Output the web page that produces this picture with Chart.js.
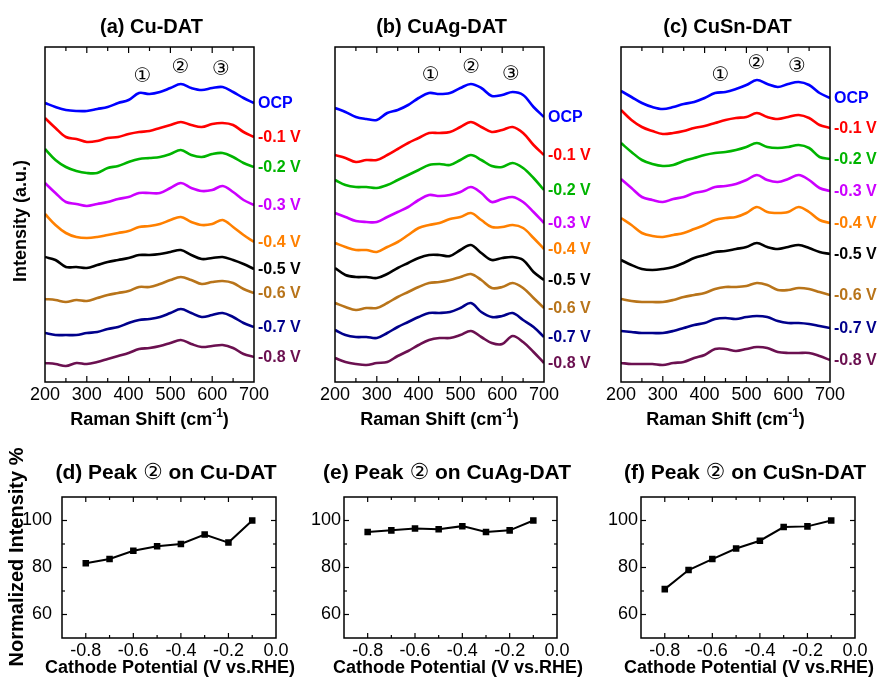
<!DOCTYPE html>
<html><head><meta charset="utf-8">
<script src="https://cdn.jsdelivr.net/npm/chart.js@4.4.1/dist/chart.umd.min.js"></script>
<style>
html,body{margin:0;padding:0;background:#fff;}
#wrap{position:relative;width:879px;height:689px;overflow:hidden;background:#fff;}
canvas{position:absolute;left:0;}
</style></head><body><div id="wrap">
<canvas id="ca"></canvas><canvas id="cb"></canvas><canvas id="cc"></canvas>
<canvas id="cd"></canvas><canvas id="ce"></canvas><canvas id="cf"></canvas>
</div>
<script>
// ---------------- DATA ----------------
const ramanShift = [200,225,250,275,300,325,350,375,400,425,450,475,500,525,550,575,600,625,650,675,700];
const ramanTicks = [200,300,400,500,600,700];
const potentialLabels = ['OCP','-0.1 V','-0.2 V','-0.3 V','-0.4 V','-0.5 V','-0.6 V','-0.7 V','-0.8 V'];

// (a) Cu-DAT spectra (offset intensity, a.u.)
const cuOCP = [279,275,272,271,271,273,275,279,282,289,288,290,294,298,294,292,294,295,290,284,279];
const cuN01 = [264,254,245,243,240,241,244,245,248,250,251,254,257,260,257,255,258,259,257,250,245];
const cuN02 = [233,222,215,211,209,209,214,216,220,223,224,225,228,232,227,225,228,229,225,219,215];
const cuN03 = [199,189,180,178,176,178,180,183,185,189,189,189,194,199,194,191,192,196,190,182,177];
const cuN04 = [168,157,149,145,144,145,147,149,151,155,156,158,162,165,160,157,158,162,155,147,140];
const cuN05 = [125,122,115,115,114,117,120,122,124,127,127,128,130,132,127,123,124,125,122,118,113];
const cuN06 = [83,82,80,82,81,84,87,89,91,95,95,98,102,105,102,98,100,101,99,93,89];
const cuN07 = [49,47,47,47,49,50,53,55,59,62,63,65,69,73,69,65,67,69,65,59,55];
const cuN08 = [19,18,16,19,18,20,23,26,29,33,34,36,39,42,38,35,36,37,34,28,25];

// (b) CuAg-DAT spectra
const agOCP = [274,270,265,263,262,269,272,277,284,289,288,289,294,298,294,286,287,290,287,275,265];
const agN01 = [227,224,220,222,222,227,233,239,244,249,249,250,255,260,255,250,252,255,249,237,227];
const agN02 = [202,197,195,195,194,197,202,207,212,217,218,217,222,227,222,216,215,219,214,204,192];
const agN03 = [169,165,161,160,160,165,170,175,182,187,186,187,190,195,189,180,183,185,180,170,159];
const agN04 = [139,135,132,132,130,135,140,147,154,157,159,163,165,169,162,155,155,157,154,144,133];
const agN05 = [114,107,105,105,104,108,114,119,124,127,127,126,132,137,129,122,124,125,122,110,102];
const agN06 = [79,75,72,74,74,79,85,90,95,99,100,102,105,108,102,94,95,99,94,84,74];
const agN07 = [52,47,45,45,44,49,55,60,65,69,69,70,74,79,70,65,66,69,62,55,45];
const agN08 = [24,20,18,17,19,20,26,31,37,42,44,44,47,51,45,39,38,46,40,30,19];

// (c) CuSn-DAT spectra
const snOCP = [291,285,279,275,273,275,278,280,284,289,290,293,297,302,298,295,298,300,297,289,284];
const snN01 = [272,262,255,251,248,249,251,254,256,259,262,264,265,269,265,263,265,267,264,257,254];
const snN02 = [239,230,222,218,216,217,221,224,227,229,230,232,235,239,235,234,235,237,234,225,223];
const snN03 = [203,194,185,182,180,183,185,189,191,195,196,198,202,207,202,200,203,207,202,194,191];
const snN04 = [164,157,149,146,145,147,149,153,157,162,164,165,169,175,170,169,170,175,170,162,159];
const snN05 = [122,117,113,112,113,115,119,124,127,130,131,133,135,139,135,133,135,137,134,130,128];
const snN06 = [83,81,80,80,80,82,85,87,89,93,95,95,96,99,97,92,92,94,93,90,87];
const snN07 = [51,50,49,49,49,51,54,57,59,63,64,63,65,66,65,61,59,59,58,56,54];
const snN08 = [19,18,18,18,17,19,20,24,27,33,33,31,33,35,34,30,29,29,29,26,22];

// (d)-(f) normalized intensity of peak 2
const cathodePotential = [-0.8,-0.7,-0.6,-0.5,-0.4,-0.3,-0.2,-0.1];
const peak2Cu   = [81.8,83.6,87.1,89.0,90.0,94.0,90.6,100];
const peak2CuAg = [95.1,95.8,96.6,96.3,97.6,95.1,95.8,100];
const peak2CuSn = [70.8,78.9,83.6,88.1,91.4,97.2,97.5,100];
const potentialTicks = [-0.8,-0.6,-0.4,-0.2,0.0];
const potentialMinor = [-0.8,-0.7,-0.6,-0.5,-0.4,-0.3,-0.2,-0.1];
const intensityTicks = [60,80,100];
const intensityMinor = [60,70,80,90,100];

// ---------------- STYLE ----------------
const curveColors = ['#0000ff','#ff0000','#00b400','#cc00ff','#ff8000','#000000','#b8741a','#00008b','#6b1050'];
const FONT = '"Liberation Sans", Arial, "DejaVu Sans", sans-serif';
const SYM = '"DejaVu Sans", sans-serif';
const W = 879;

function seg(ctx, parts, cx, y) {
  let w = 0;
  parts.forEach(p => { ctx.font = p.f; p.w = ctx.measureText(p.t).width; w += p.w; });
  let x = cx - w / 2;
  ctx.textAlign = 'left'; ctx.textBaseline = 'middle'; ctx.fillStyle = '#000';
  parts.forEach(p => { ctx.font = p.f; ctx.fillText(p.t, x, y + (p.dy || 0)); x += p.w; });
}
function ln(ctx, x1, y1, x2, y2) { ctx.beginPath(); ctx.moveTo(x1, y1); ctx.lineTo(x2, y2); ctx.stroke(); }

function makeSpectra(id, area, series, cfg) {
  const cv = document.getElementById(id);
  cv.width = W; cv.height = 440; cv.style.top = '0px';
  const datasets = series.map((s, i) => ({
    data: ramanShift.map((x, j) => ({x: x, y: s[j]})),
    borderColor: curveColors[i], borderWidth: 2.6, pointRadius: 0, tension: 0.35, fill: false
  }));
  const decor = {
    id: 'decor' + id,
    afterDraw(chart) {
      const ctx = chart.ctx, a = chart.chartArea, xs = chart.scales.x, ys = chart.scales.y;
      ctx.save();
      ctx.strokeStyle = '#000'; ctx.lineWidth = 1.5;
      ctx.strokeRect(a.left, a.top, a.right - a.left, a.bottom - a.top);
      ctx.lineWidth = 1.2;
      for (let v = 250; v < 700; v += 50) {
        const p = xs.getPixelForValue(v), L = (v % 100 === 0) ? 6 : 4;
        ln(ctx, p, a.top, p, a.top + L); ln(ctx, p, a.bottom, p, a.bottom - L);
      }
      ctx.font = 'bold 16px ' + FONT; ctx.textAlign = 'left'; ctx.textBaseline = 'middle';
      series.forEach((s, i) => {
        ctx.fillStyle = curveColors[i];
        ctx.fillText(potentialLabels[i], a.right + 4, ys.getPixelForValue(s[s.length - 1]) + 1);
      });
      ctx.fillStyle = '#000'; ctx.font = '20px ' + SYM; ctx.textAlign = 'center';
      cfg.peaks.forEach(pk => ctx.fillText(pk[0], xs.getPixelForValue(pk[1]), ys.getPixelForValue(pk[2])));
      seg(ctx, [{t: cfg.title, f: 'bold 20px ' + FONT}], (a.left + a.right) / 2 + 2, 27);
      seg(ctx, [{t: 'Raman Shift (cm', f: 'bold 18px ' + FONT}, {t: '-1', f: 'bold 12px ' + FONT, dy: -6}, {t: ')', f: 'bold 18px ' + FONT}], (a.left + a.right) / 2, 420);
      if (cfg.yTitle) {
        ctx.save(); ctx.translate(21, 221); ctx.rotate(-Math.PI / 2);
        seg(ctx, [{t: 'Intensity (a.u.)', f: 'bold 18px ' + FONT}], 0, 0);
        ctx.restore();
      }
      ctx.restore();
    }
  };
  new Chart(cv, {
    type: 'line',
    data: {datasets},
    options: {
      responsive: false, animation: false, events: [],
      layout: {padding: {left: area.l, top: area.t, right: W - area.r, bottom: 440 - area.b - 30}},
      plugins: {legend: {display: false}, tooltip: {enabled: false}, title: {display: false}},
      scales: {
        x: {type: 'linear', min: 200, max: 700,
            grid: {display: false, drawTicks: false}, border: {display: false},
            afterBuildTicks: s => { s.ticks = ramanTicks.map(v => ({value: v})); },
            afterFit: s => { s.height = 30; },
            ticks: {font: {family: FONT, size: 18}, color: '#000', padding: 2, maxRotation: 0, autoSkip: false}},
        y: {display: false, min: 0, max: 335}
      }
    },
    plugins: [decor]
  });
}

function makePeak(id, area, values, cfg) {
  const cv = document.getElementById(id);
  cv.width = W; cv.height = 249; cv.style.top = '440px';
  const decor = {
    id: 'decor' + id,
    afterDraw(chart) {
      const ctx = chart.ctx, a = chart.chartArea, xs = chart.scales.x, ys = chart.scales.y;
      ctx.save();
      ctx.strokeStyle = '#000'; ctx.lineWidth = 1.5;
      ctx.strokeRect(a.left, a.top, a.right - a.left, a.bottom - a.top);
      ctx.lineWidth = 1.2;
      potentialMinor.forEach((v, i) => {
        const p = xs.getPixelForValue(v), L = (i % 2 === 0) ? 5 : 3;
        ln(ctx, p, a.top, p, a.top + L); ln(ctx, p, a.bottom, p, a.bottom - L);
      });
      intensityMinor.forEach((v, i) => {
        const p = ys.getPixelForValue(v), L = (i % 2 === 0) ? 5 : 3;
        ln(ctx, a.left, p, a.left + L, p); ln(ctx, a.right, p, a.right - L, p);
      });
      seg(ctx, [{t: cfg.pre, f: 'bold 21px ' + FONT}, {t: '\u2461', f: '22px ' + SYM}, {t: cfg.post, f: 'bold 21px ' + FONT}], cfg.titleX, 33);
      seg(ctx, [{t: 'Cathode Potential (V vs.RHE)', f: 'bold 18px ' + FONT}], cfg.xTitleX, 228);
      if (cfg.yTitle) {
        ctx.save(); ctx.translate(17, 117); ctx.rotate(-Math.PI / 2);
        seg(ctx, [{t: 'Normalized Intensity %', f: 'bold 20px ' + FONT}], 0, 0);
        ctx.restore();
      }
      ctx.restore();
    }
  };
  new Chart(cv, {
    type: 'line',
    data: {datasets: [{
      data: cathodePotential.map((x, i) => ({x: x, y: values[i]})),
      borderColor: '#000', backgroundColor: '#000', borderWidth: 2,
      pointStyle: 'rect', pointRadius: 3.2, tension: 0, fill: false
    }]},
    options: {
      responsive: false, animation: false, events: [],
      layout: {padding: {left: area.l - 45, top: area.t, right: W - area.r, bottom: 249 - area.b - 25}},
      plugins: {legend: {display: false}, tooltip: {enabled: false}, title: {display: false}},
      scales: {
        x: {type: 'linear', min: -0.9, max: 0.0,
            grid: {display: false, drawTicks: false}, border: {display: false},
            afterBuildTicks: s => { s.ticks = potentialTicks.map(v => ({value: v})); },
            afterFit: s => { s.height = 25; },
            ticks: {font: {family: FONT, size: 18}, color: '#000', padding: 2, maxRotation: 0, autoSkip: false,
                    callback: v => Number(v).toFixed(1)}},
        y: {type: 'linear', min: 50, max: 110,
            grid: {display: false, drawTicks: false}, border: {display: false},
            afterBuildTicks: s => { s.ticks = intensityTicks.map(v => ({value: v})); },
            afterFit: s => { s.width = 45; },
            ticks: {font: {family: FONT, size: 18}, color: '#000', padding: cfg.yPad, autoSkip: false}}
      }
    },
    plugins: [decor]
  });
}

makeSpectra('ca', {l: 45, t: 47, r: 254, b: 382},
  [cuOCP, cuN01, cuN02, cuN03, cuN04, cuN05, cuN06, cuN07, cuN08],
  {title: '(a) Cu-DAT', yTitle: true, peaks: [['\u2460', 433, 305], ['\u2461', 524, 314], ['\u2462', 621, 312]]});
makeSpectra('cb', {l: 335, t: 47, r: 544, b: 382},
  [agOCP, agN01, agN02, agN03, agN04, agN05, agN06, agN07, agN08],
  {title: '(b) CuAg-DAT', yTitle: false, peaks: [['\u2460', 429, 306], ['\u2461', 526, 314], ['\u2462', 621, 307]]});
makeSpectra('cc', {l: 621, t: 47, r: 830, b: 382},
  [snOCP, snN01, snN02, snN03, snN04, snN05, snN06, snN07, snN08],
  {title: '(c) CuSn-DAT', yTitle: false, peaks: [['\u2460', 438, 306], ['\u2461', 524, 318], ['\u2462', 621, 315]]});

makePeak('cd', {l: 62, t: 57, r: 276, b: 198}, peak2Cu,
  {pre: '(d) Peak ', post: ' on Cu-DAT', titleX: 166, xTitleX: 170, yPad: 10, yTitle: true});
makePeak('ce', {l: 344, t: 57, r: 557, b: 198}, peak2CuAg,
  {pre: '(e) Peak ', post: ' on CuAg-DAT', titleX: 447, xTitleX: 458, yPad: 3, yTitle: false});
makePeak('cf', {l: 641, t: 57, r: 855, b: 198}, peak2CuSn,
  {pre: '(f) Peak ', post: ' on CuSn-DAT', titleX: 745, xTitleX: 749, yPad: 3, yTitle: false});
</script>
</body></html>
